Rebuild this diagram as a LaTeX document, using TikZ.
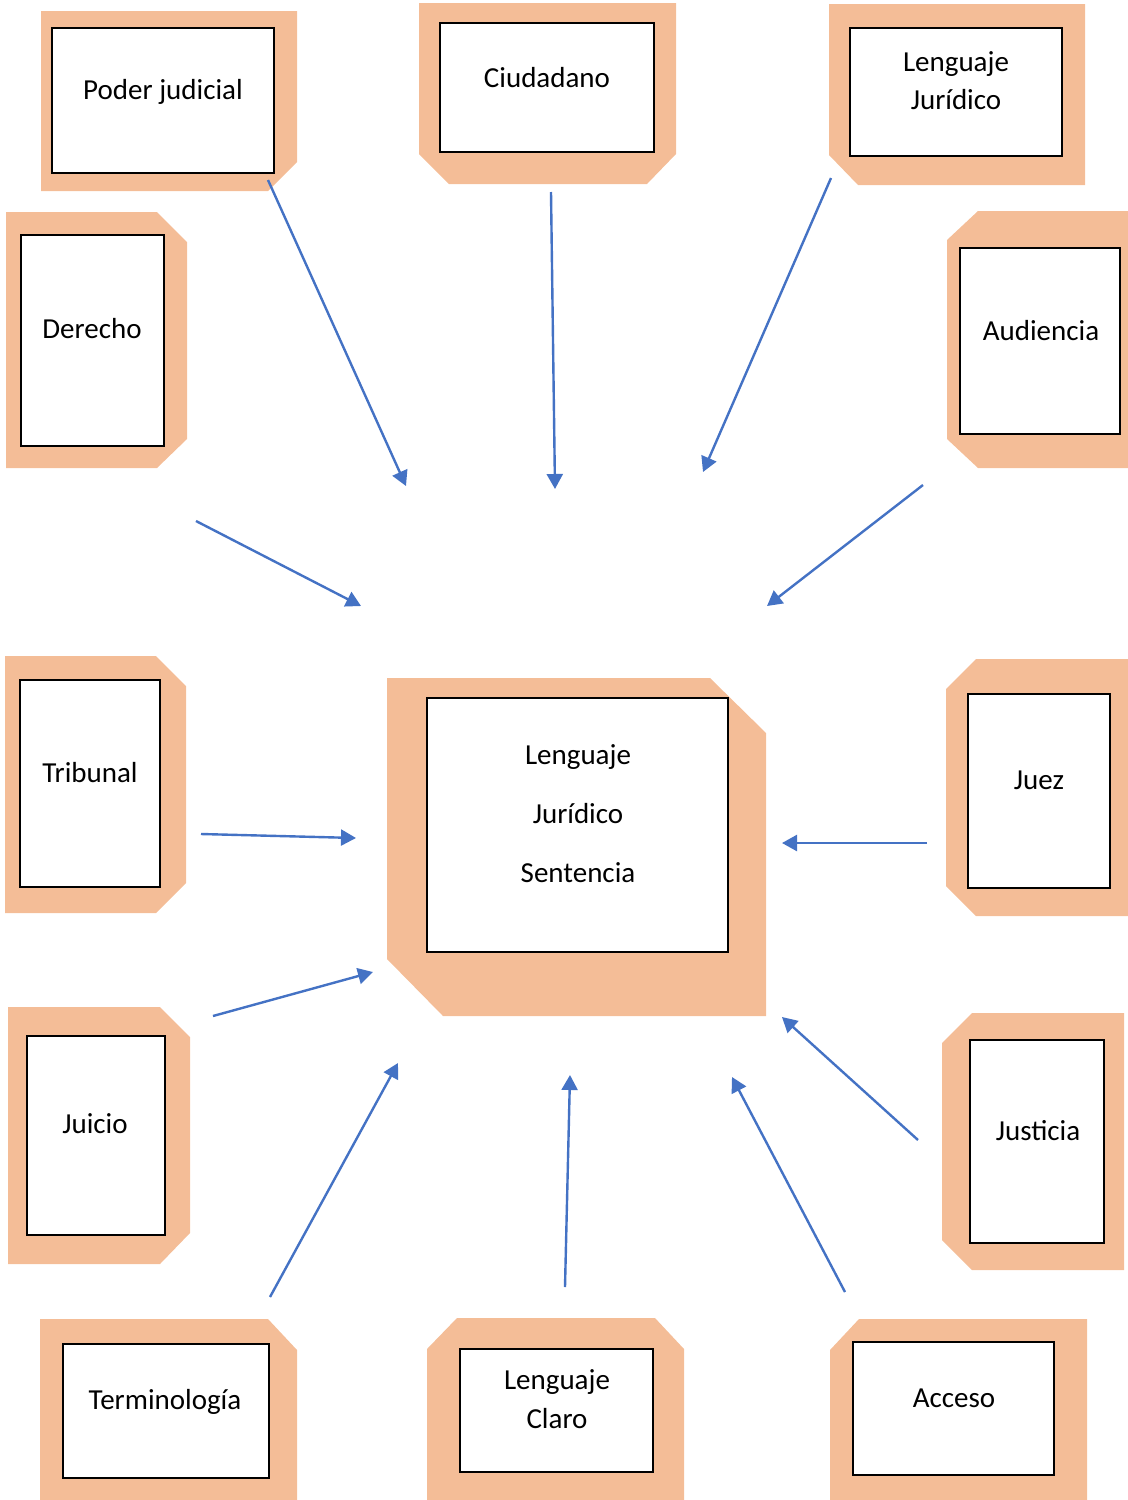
\documentclass[tikz,border=0pt]{standalone}
\usepackage{fontspec}
\setmainfont{Carlito}
\usetikzlibrary{arrows.meta}
\definecolor{peach}{HTML}{F4BD97}
\definecolor{arrowblue}{HTML}{4472C4}
\begin{document}
\begin{tikzpicture}[x=0.5pt,y=-0.5pt,
  frame/.style={fill=peach, draw=none},
  innerbox/.style={fill=white, draw=black, line width=0.6pt},
  lbl/.style={font=\fontsize{14.5}{17}\selectfont, inner sep=0pt, anchor=base},
  conn/.style={draw=arrowblue, line width=1.2pt, -{Triangle[length=7.5pt,width=8pt]}}]
\useasboundingbox (0,0) rectangle (1128,1500);
% frames
\fill[frame] (41,11) -- (297,11) -- (297,162) -- (268,191) -- (41,191) -- cycle;
\draw[innerbox] (52,28) rectangle (274,173);
\fill[frame] (419,3) -- (676,3) -- (676,154) -- (647,184) -- (449,184) -- (419,154) -- cycle;
\draw[innerbox] (440,23) rectangle (654,152);
\fill[frame] (829,4) -- (1085,4) -- (1085,185) -- (858,185) -- (829,155) -- cycle;
\draw[innerbox] (850,28) rectangle (1062,156);
\fill[frame] (6,212) -- (157,212) -- (187,242) -- (187,439) -- (157,468) -- (6,468) -- cycle;
\draw[innerbox] (21,235) rectangle (164,446);
\fill[frame] (978,211) -- (1128,211) -- (1128,468) -- (978,468) -- (947,439) -- (947,240) -- cycle;
\draw[innerbox] (960,248) rectangle (1120,434);
\fill[frame] (387,678) -- (710,678) -- (766,733) -- (766,1016) -- (443,1016) -- (387,959) -- cycle;
\draw[innerbox] (427,698) rectangle (728,952);
\fill[frame] (5,656) -- (156,656) -- (186,686) -- (186,883) -- (156,913) -- (5,913) -- cycle;
\draw[innerbox] (20,680) rectangle (160,887);
\fill[frame] (976,659) -- (1128,659) -- (1128,916) -- (976,916) -- (946,886) -- (946,689) -- cycle;
\draw[innerbox] (968,694) rectangle (1110,888);
\fill[frame] (8,1007) -- (160,1007) -- (190,1037) -- (190,1233) -- (160,1264) -- (8,1264) -- cycle;
\draw[innerbox] (27,1036) rectangle (165,1235);
\fill[frame] (972,1013) -- (1124,1013) -- (1124,1270) -- (972,1270) -- (942,1240) -- (942,1043) -- cycle;
\draw[innerbox] (970,1040) rectangle (1104,1243);
\fill[frame] (40,1319) -- (268,1319) -- (297,1350) -- (297,1500) -- (40,1500) -- cycle;
\draw[innerbox] (63,1344) rectangle (269,1478);
\fill[frame] (457,1318) -- (655,1318) -- (684,1349) -- (684,1500) -- (427,1500) -- (427,1349) -- cycle;
\draw[innerbox] (460,1349) rectangle (653,1472);
\fill[frame] (859,1319) -- (1087,1319) -- (1087,1500) -- (830,1500) -- (830,1350) -- cycle;
\draw[innerbox] (853,1342) rectangle (1054,1475);
% labels
\node[lbl] (poder) at (163,99) {Poder judicial};
\node[lbl] (ciud) at (547,87) {Ciudadano};
\node[lbl] (lj1) at (956,71) {Lenguaje};
\node[lbl] (lj2) at (956,109) {Jurídico};
\node[lbl] (der) at (92,338) {Derecho};
\node[lbl] (aud) at (1041,340) {Audiencia};
\node[lbl] (c1) at (578,764) {Lenguaje};
\node[lbl] (c2) at (578,823) {Jurídico};
\node[lbl] (c3) at (578,882) {Sentencia};
\node[lbl] (trib) at (90,782) {Tribunal};
\node[lbl] (juez) at (1039,789) {Juez};
\node[lbl] (juic) at (95,1133) {Juicio};
\node[lbl] (just) at (1038,1140) {Justicia};
\node[lbl] (term) at (165,1409) {Terminología};
\node[lbl] (lc1) at (557,1389) {Lenguaje};
\node[lbl] (lc2) at (557,1428) {Claro};
\node[lbl] (acc) at (954,1407) {Acceso};
% connectors
\coordinate (a1s) at (268,180); \coordinate (a1e) at (406,486);
\coordinate (a2s) at (551,192); \coordinate (a2e) at (555,489);
\coordinate (a3s) at (831,178); \coordinate (a3e) at (703,472);
\coordinate (a4s) at (923,485); \coordinate (a4e) at (767,606);
\coordinate (a5s) at (196,521); \coordinate (a5e) at (361,606);
\coordinate (a6s) at (201,834); \coordinate (a6e) at (356,838);
\coordinate (a7s) at (927,843); \coordinate (a7e) at (782,843);
\coordinate (a8s) at (213,1016); \coordinate (a8e) at (373,972);
\coordinate (a9s) at (918,1140); \coordinate (a9e) at (782,1017);
\coordinate (a10s) at (270,1297); \coordinate (a10e) at (398,1063);
\coordinate (a11s) at (565,1287); \coordinate (a11e) at (570,1075);
\coordinate (a12s) at (845,1292); \coordinate (a12e) at (732,1077);
\foreach \i in {1,...,12} {\draw[conn] (a\i s) -- (a\i e);}
\end{tikzpicture}
\end{document}
